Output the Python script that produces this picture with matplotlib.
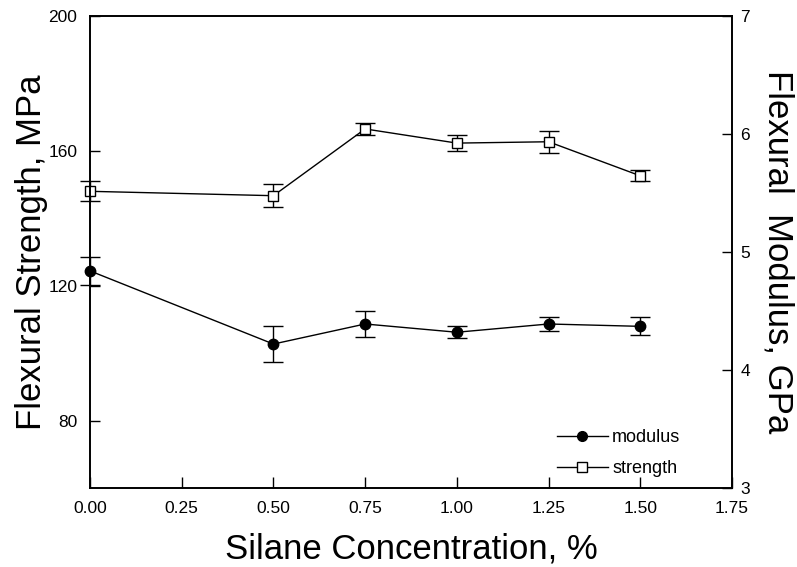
import matplotlib
matplotlib.use("Agg")
import matplotlib.pyplot as plt
from matplotlib.lines import Line2D

plt.rcParams['font.family'] = ['Liberation Sans', 'DejaVu Sans']

# silane concentration, %
conc = [0.0, 0.5, 0.75, 1.0, 1.25, 1.5]

# flexural strength, MPa (left axis)
strength = [148.0, 146.7, 166.5, 162.3, 162.7, 152.6]
strength_err = [3.0, 3.5, 1.7, 2.4, 3.2, 1.6]

# flexural modulus, GPa (right axis)
modulus = [4.84, 4.22, 4.39, 4.32, 4.39, 4.37]
modulus_err = [0.12, 0.15, 0.11, 0.05, 0.056, 0.075]

x_ticks = [0.0, 0.25, 0.5, 0.75, 1.0, 1.25, 1.5, 1.75]
left_ticks = [80, 120, 160, 200]
right_ticks = [3, 4, 5, 6, 7]

fig = plt.figure(figsize=(7.97, 5.67), dpi=100)
ax = fig.add_axes([0.1129, 0.1393, 0.8055, 0.8325])
ax2 = ax.twinx()

ax.errorbar(conc, strength, yerr=strength_err, color='black', lw=1.0,
            marker='s', markersize=7, markerfacecolor='white',
            markeredgecolor='black', markeredgewidth=1.0,
            capsize=7, elinewidth=1.0, capthick=1.0, clip_on=False)
ax2.errorbar(conc, modulus, yerr=modulus_err, color='black', lw=1.0,
             marker='o', markersize=7.5, markerfacecolor='black',
             markeredgecolor='black', capsize=7, elinewidth=1.0,
             capthick=1.0, clip_on=False)

ax.set_xlim(0, 1.75)
ax.set_ylim(60, 200)
ax2.set_ylim(3, 7)
ax.set_xticks(x_ticks)
ax.set_xticklabels(['%.2f' % v for v in x_ticks])
ax.set_yticks(left_ticks)
ax2.set_yticks(right_ticks)

ax.tick_params(axis='x', direction='in', length=8, width=1.0, pad=9, labelsize=12.5)
ax.tick_params(axis='y', direction='in', length=7, width=1.0, pad=9, labelsize=12.5)
ax2.tick_params(axis='y', direction='in', length=7, width=1.0, pad=6, labelsize=12.5)

for a in (ax, ax2):
    for s in a.spines.values():
        s.set_linewidth(1.2)

ax.set_xlabel('Silane Concentration, %', fontsize=25, labelpad=12)
ax.set_ylabel('Flexural Strength, MPa', fontsize=25, labelpad=0)
ax2.set_ylabel('Flexural  Modulus, GPa', fontsize=25, rotation=270, labelpad=32)

h_mod = Line2D([], [], color='black', lw=1.0, marker='o', markersize=7,
               markerfacecolor='black')
h_str = Line2D([], [], color='black', lw=1.0, marker='s', markersize=6.5,
               markerfacecolor='white')
ax.legend([h_mod, h_str], ['modulus', 'strength'], loc='lower right',
          bbox_to_anchor=(0.945, -0.012), frameon=False, fontsize=13,
          handlelength=2.8, handletextpad=0.25, labelspacing=0.8)

fig.savefig('out.png', dpi=100)
